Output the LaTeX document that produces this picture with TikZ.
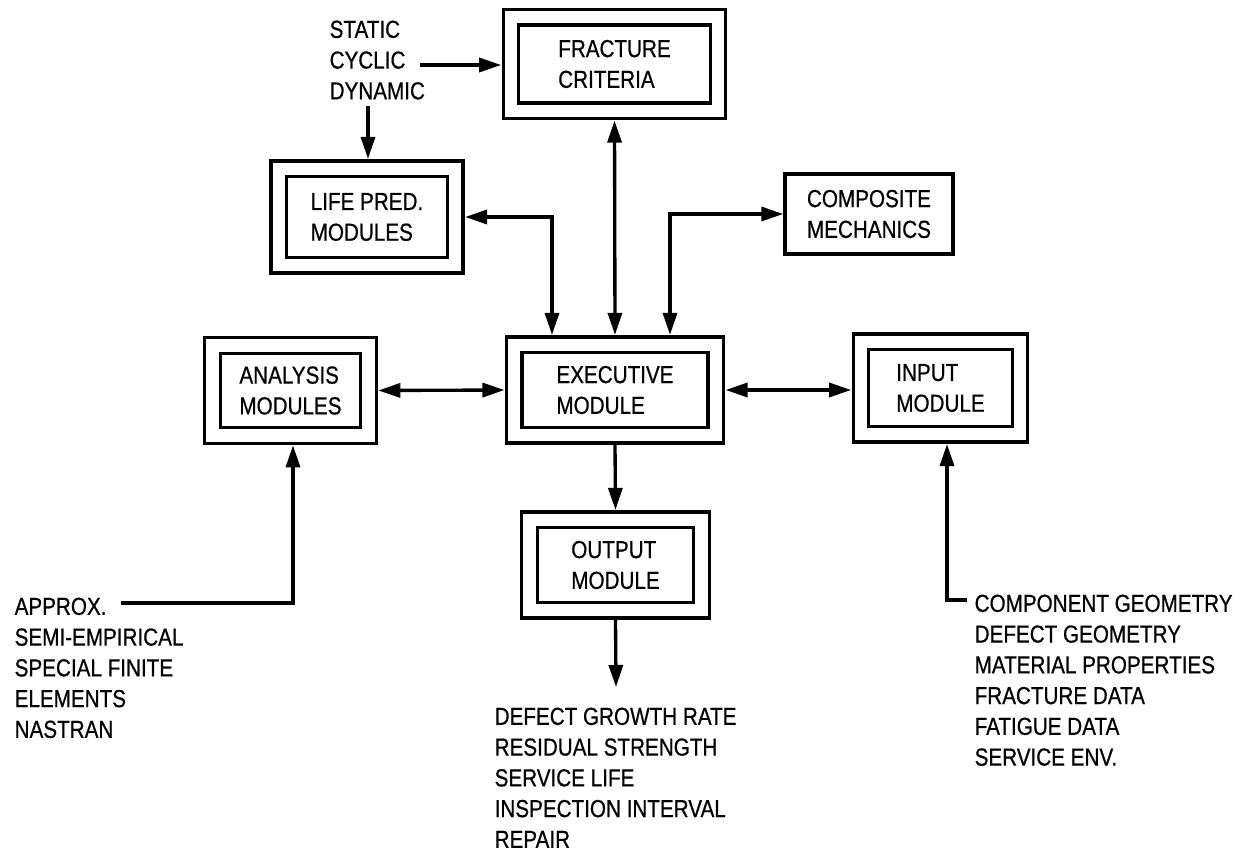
\documentclass[tikz,border=0pt]{standalone}
\usepackage{fontspec}
\setmainfont[FakeStretch=0.84, FakeBold=0.6]{Liberation Sans}
\usetikzlibrary{arrows.meta,calc}
\def\lw{1.9pt}
\tikzset{
	module/.style={draw, double, double distance=6.9pt, outer sep=5.6pt, inner sep=0pt, align=left},
	single/.style={draw, inner sep=0pt, align=left},
	labels/.style={anchor=north west, inner sep=0pt, align=left}
}

\begin{document}
\begin{tikzpicture}[x=0.02cm, y=-0.02cm, line width=\lw, >={Triangle[length=0.44cm,width=0.28cm]}, font=\fontsize{14}{17.5}\selectfont]
\useasboundingbox (0,0) rectangle (1243,851);

% modules
\node[module, minimum width=4.14cm, minimum height=1.87cm] (fracture) at (614.5,64) {FRACTURE\\CRITERIA};
\node[module, minimum width=3.53cm, minimum height=1.93cm] (life) at (367,217) {LIFE PRED.\\MODULES};
\node[single, minimum width=3.36cm, minimum height=1.6cm] (composite) at (869,214) {COMPOSITE\\MECHANICS};
\node[module, minimum width=3.12cm, minimum height=1.8cm] (analysis) at (290.5,390.5) {ANALYSIS\\MODULES};
\node[module, minimum width=4.03cm, minimum height=1.81cm] (exec) at (615,390) {EXECUTIVE\\MODULE};
\node[module, minimum width=3.18cm, minimum height=1.85cm] (input) at (940.5,388) {INPUT\\MODULE};
\node[module, minimum width=3.44cm, minimum height=1.81cm] (output) at (615.5,565) {OUTPUT\\MODULE};

% lists
\node[labels] (loads) at (328,19) {STATIC\\CYCLIC\\DYNAMIC};
\node[labels] (methods) at (13,596) {APPROX.\\SEMI-EMPIRICAL\\SPECIAL FINITE\\ELEMENTS\\NASTRAN};
\node[labels] (results) at (493,706) {DEFECT GROWTH RATE\\RESIDUAL STRENGTH\\SERVICE LIFE\\INSPECTION INTERVAL\\REPAIR};
\node[labels] (data) at (973,593) {COMPONENT GEOMETRY\\DEFECT GEOMETRY\\MATERIAL PROPERTIES\\FRACTURE DATA\\FATIGUE DATA\\SERVICE ENV.};

\coordinate (cyclic) at (420,65);
\coordinate (dynamic) at (368,106);
\coordinate (approx) at (121,603);
\coordinate (geometry) at (967,600);
\coordinate (resultsin) at (616,687);

% links
\draw[->] (cyclic) -- (cyclic -| fracture.west);
\draw[->] (dynamic) -- (dynamic |- life.north);
\draw[<->] (fracture.south) -- (exec.north);
\draw[<->] (life.east) -| ($(exec.north)+(-63,0)$);
\draw[<->] ($(exec.north)+(55,0)$) |- (composite.west);
\draw[<->] (analysis.east) -- (exec.west);
\draw[<->] (exec.east) -- (exec.east -| input.west);
\draw[->] (exec.south) -- (output.north);
\draw[->] (output.south) -- (resultsin);
\draw[->] (approx) -| ($(analysis.south)+(2.5,0)$);
\draw[->] (geometry) -| ($(input.south)+(6.5,0)$);
\end{tikzpicture}
\end{document}
